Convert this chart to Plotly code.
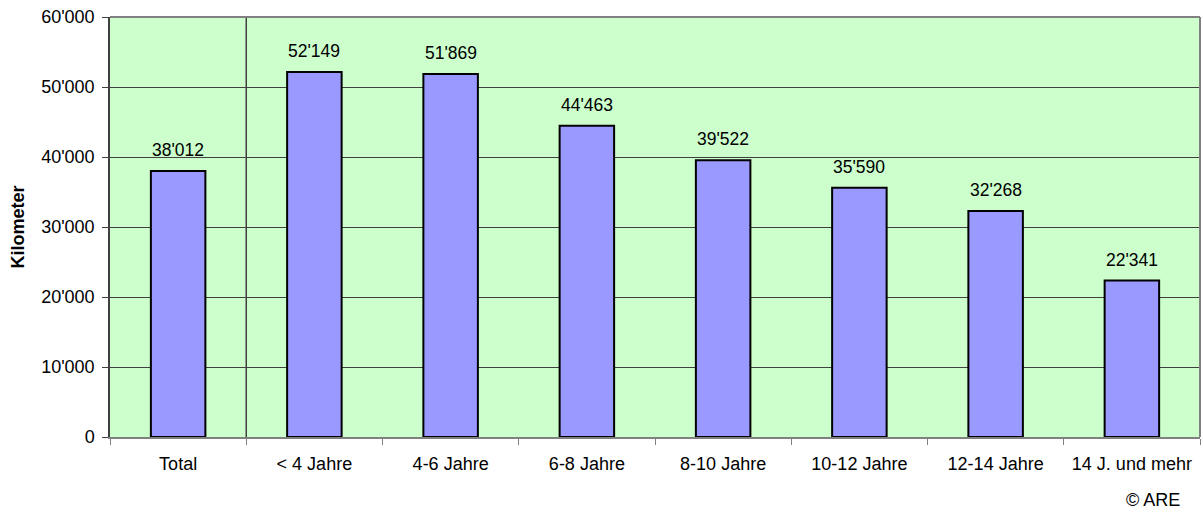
import plotly.graph_objects as go

categories = ["Total", "< 4 Jahre", "4-6 Jahre", "6-8 Jahre", "8-10 Jahre",
              "10-12 Jahre", "12-14 Jahre", "14 J. und mehr"]
km = [38012, 52149, 51869, 44463, 39522, 35590, 32268, 22341]
y_ticks = [0, 10000, 20000, 30000, 40000, 50000, 60000]

FONT = "Liberation Sans, Arial, sans-serif"


def fmt(v):
    return f"{v:,}".replace(",", "'")


fig = go.Figure(
    data=[go.Bar(
        x=categories,
        y=km,
        width=0.4,
        marker=dict(color="#9999FF", line=dict(color="black", width=2)),
        hoverinfo="x+y",
    )]
)

# value labels above the bars
for c, v in zip(categories, km):
    fig.add_annotation(x=c, y=v, text=fmt(v), showarrow=False,
                       yshift=21, font=dict(size=17.5, color="black"))

# separator between Total and the age groups
fig.add_shape(type="line", xref="x", yref="paper", x0=0.5, x1=0.5, y0=0, y1=1,
              line=dict(color="#404040", width=1.5))

fig.add_annotation(text="© ARE", xref="paper", yref="paper", x=0.9835, y=-0.15,
                   xanchor="right", yanchor="middle", showarrow=False,
                   font=dict(size=18, color="black"))

fig.update_layout(
    width=1203,
    height=515,
    margin=dict(l=110, r=3, t=17, b=78),
    plot_bgcolor="#CCFFCC",
    paper_bgcolor="white",
    separators=".'",
    font=dict(family=FONT, size=18, color="black"),
    showlegend=False,
    bargap=0.6,
)

fig.update_yaxes(
    range=[0, 60000],
    tickvals=y_ticks,
    tickformat=",d",
    showgrid=True,
    gridcolor="#404040",
    gridwidth=1,
    ticks="outside",
    ticklen=6,
    tickcolor="#404040",
    ticklabelstandoff=4,
    showline=True,
    linecolor="#404040",
    linewidth=1.5,
    zeroline=False,
    title=dict(text="<b>Kilometer</b>", standoff=12, font=dict(size=18)),
)

fig.update_xaxes(
    showgrid=False,
    tickson="boundaries",
    ticks="outside",
    ticklen=6,
    tickcolor="#808080",
    ticklabelstandoff=10,
    showline=True,
    linecolor="#808080",
    linewidth=1.5,
)

# grey frame on top and right
fig.add_shape(type="line", xref="paper", yref="paper", x0=0, x1=1, y0=1, y1=1,
              line=dict(color="#808080", width=2))
fig.add_shape(type="line", xref="paper", yref="paper", x0=1, x1=1, y0=0, y1=1,
              line=dict(color="#808080", width=2))

fig.write_html("out.html", config={"displayModeBar": False},
               post_script="document.body.style.margin='0';")
